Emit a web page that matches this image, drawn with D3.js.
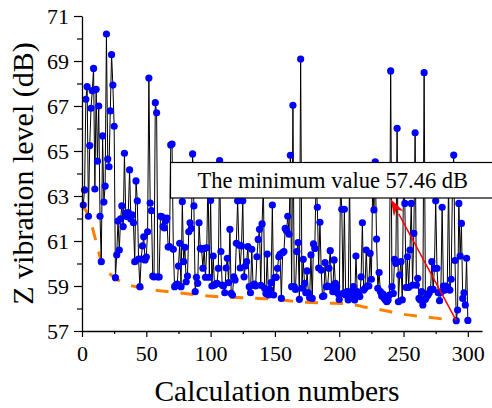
<!DOCTYPE html>
<html>
<head>
<meta charset="utf-8">
<script src="https://cdn.jsdelivr.net/npm/d3@7"></script>
<style>
  html, body { margin: 0; padding: 0; background: #fff; }
  svg { display: block; }
  text { font-family: "Liberation Serif", "Times New Roman", serif; fill: #000; }
</style>
</head>
<body>
<svg id="chart" width="492" height="408"></svg>
<script>
// ---------------- data ----------------
const calcNumbers = d3.range(1, 301);
const zLevel = [
  62.6, 63.27, 67.3, 67.86, 62.1, 65.24, 66.9, 67.68, 68.67, 63.31,
  67.74, 64.55, 67.0, 62.1, 60.08, 65.67, 62.73, 63.44, 70.2, 64.64,
  64.3, 66.78, 69.28, 67.93, 66.1, 59.37, 60.38, 61.89, 60.6, 61.98,
  62.56, 61.64, 64.9, 62.24, 62.08, 62.26, 64.16, 61.98, 62.16, 61.81,
  60.08, 63.67, 62.78, 60.2, 58.97, 60.2, 60.78, 61.19, 60.16, 60.29,
  61.41, 68.24, 62.69, 62.35, 59.44, 59.4, 67.15, 66.7, 59.41, 59.4,
  62.1, 62.08, 61.64, 61.58, 61.9, 62.02, 60.73, 60.75, 65.27, 65.31,
  60.63, 58.97, 59.04, 59.09, 59.89, 60.9, 58.97, 62.75, 60.08, 60.72,
  59.19, 59.44, 61.41, 61.81, 61.56, 64.87, 62.56, 58.75, 59.39, 59.12,
  61.81, 60.67, 60.63, 59.79, 60.67, 59.39, 60.7, 63.9, 59.39, 62.8,
  59.0, 60.33, 59.04, 59.09, 59.12, 59.79, 64.57, 60.53, 59.04, 59.0,
  58.7, 59.8, 60.23, 59.15, 61.52, 58.67, 58.6, 59.41, 59.27, 60.9,
  62.79, 60.82, 59.8, 60.78, 62.79, 59.41, 59.89, 60.08, 60.75, 58.97,
  58.7, 60.63, 59.04, 59.09, 59.0, 60.3, 61.07, 61.52, 59.03, 61.76,
  63.5, 58.9, 58.67, 60.42, 58.6, 58.85, 59.15, 62.6, 58.6, 59.39,
  59.39, 59.79, 60.3, 60.41, 58.45, 60.48, 60.53, 61.56, 61.46, 62.1,
  61.3, 64.81, 58.97, 67.03, 58.97, 58.85, 60.53, 60.93, 58.41, 69.09,
  58.9, 60.19, 59.12, 58.7, 59.67, 58.7, 58.48, 60.38, 58.45, 60.87,
  60.67, 63.8, 62.5, 59.8, 61.83, 59.71, 58.53, 58.56, 60.04, 58.97,
  59.0, 59.79, 60.57, 58.97, 58.75, 60.16, 59.12, 58.97, 58.67, 58.4,
  63.6, 62.41, 58.67, 62.41, 58.6, 58.75, 58.38, 63.8, 58.75, 58.6,
  58.97, 58.38, 60.33, 58.75, 58.6, 58.53, 59.41, 61.81, 58.82, 58.9,
  60.6, 59.01, 59.0, 60.45, 59.3, 63.5, 62.38, 64.52, 61.09, 58.9,
  59.6, 58.75, 58.56, 58.64, 58.45, 58.38, 58.3, 58.38, 58.6, 68.56,
  58.97, 58.67, 60.19, 60.01, 66.01, 58.3, 59.49, 60.08, 58.38, 63.7,
  62.67, 58.94, 60.3, 58.94, 60.6, 62.67, 59.04, 61.34, 65.81, 59.04,
  59.34, 58.45, 58.38, 58.75, 58.16, 68.48, 58.41, 58.53, 58.6, 58.7,
  58.85, 60.08, 58.85, 59.79, 62.79, 59.79, 58.7, 58.35, 58.7, 62.5,
  59.0, 58.82, 59.0, 58.94, 63.6, 58.82, 59.3, 63.3, 64.82, 60.13,
  57.46, 57.93, 62.67, 60.33, 61.78, 58.45, 58.7, 58.16, 60.23, 57.47
];
// lower envelope (orange dashed)
const envelopeX = [0, 6, 11, 15.5, 21.7, 31, 50.5, 70, 90, 109.5, 129, 149, 169, 189, 209, 219, 229, 248, 268, 291];
const envelopeY = [62.6, 62.0, 60.96, 60.0, 59.53, 59.18, 58.87, 58.73, 58.6, 58.51, 58.47, 58.42, 58.29, 58.24, 58.2, 58.07, 57.98, 57.76, 57.62, 57.46];

const xTicks = [0, 50, 100, 150, 200, 250, 300];
const xMinorTicks = [25, 75, 125, 175, 225, 275];
const yTicks = [57, 59, 61, 63, 65, 67, 69, 71];
const yMinorTicks = [58, 60, 62, 64, 66, 68, 70];

const minLabel = "The minimum value 57.46 dB";
const xTitle = "Calculation numbers";
const yTitle = "Z vibration level (dB)";

// ---------------- layout ----------------
const svg = d3.select("#chart");
const x = d3.scaleLinear().domain([0, 311]).range([82, 482]);
const y = d3.scaleLinear().domain([57, 71]).range([331, 16]);

const data = calcNumbers.map((c, i) => ({ c, v: zLevel[i] }));
const env = envelopeX.map((c, i) => ({ c, v: envelopeY[i] }));

// envelope
svg.append("path")
  .datum(env)
  .attr("fill", "none")
  .attr("stroke", "#ff8000")
  .attr("stroke-width", 3)
  .attr("stroke-dasharray", "13,12")
  .attr("d", d3.line().x(d => x(d.c)).y(d => y(d.v)).curve(d3.curveMonotoneX));

// series line
svg.append("path")
  .datum(data)
  .attr("fill", "none")
  .attr("stroke", "#000")
  .attr("stroke-width", 1)
  .attr("d", d3.line().x(d => x(d.c)).y(d => y(d.v)));

// points
svg.append("g").selectAll("circle")
  .data(data)
  .join("circle")
  .attr("cx", d => x(d.c))
  .attr("cy", d => y(d.v))
  .attr("r", 3.6)
  .attr("fill", "#0000ff");

// annotation box
const boxG = svg.append("g");
boxG.append("rect")
  .attr("x", 170.5).attr("y", 162.5)
  .attr("width", 330).attr("height", 35.5)
  .attr("fill", "#fff").attr("stroke", "#000").attr("stroke-width", 1.2);
boxG.append("text")
  .attr("x", 197.5).attr("y", 188)
  .attr("font-size", 22.5)
  .text(minLabel);

// red arrow from minimum point to box
const minIdx = d3.minIndex(zLevel);
const ax0 = x(calcNumbers[minIdx]), ay0 = y(zLevel[minIdx]);
const ax1 = x(240), ay1 = y(62.87);
const ang = Math.atan2(ay1 - ay0, ax1 - ax0);
const headLen = 17, headW = 5.5;
const bx = ax1 - headLen * Math.cos(ang), by = ay1 - headLen * Math.sin(ang);
svg.append("line")
  .attr("x1", ax0).attr("y1", ay0).attr("x2", bx).attr("y2", by)
  .attr("stroke", "#ff0000").attr("stroke-width", 1.5);
svg.append("path")
  .attr("fill", "#ff0000")
  .attr("d", `M${ax1},${ay1}L${bx + headW * Math.sin(ang)},${by - headW * Math.cos(ang)}L${ax1 - 12 * Math.cos(ang)},${ay1 - 12 * Math.sin(ang)}L${bx - headW * Math.sin(ang)},${by + headW * Math.cos(ang)}Z`);

// axes
const xAxis = svg.append("g").attr("transform", "translate(0,331)")
  .call(d3.axisBottom(x).tickValues(xTicks).tickFormat(d3.format("d")).tickSize(6).tickSizeOuter(0));
svg.append("g").attr("transform", "translate(0,331)")
  .call(d3.axisBottom(x).tickValues(xMinorTicks).tickFormat("").tickSize(3).tickSizeOuter(0))
  .select(".domain").remove();
const yAxis = svg.append("g").attr("transform", "translate(82,0)")
  .call(d3.axisLeft(y).tickValues(yTicks).tickFormat(d3.format("d")).tickSize(8).tickSizeOuter(0));
svg.append("g").attr("transform", "translate(82,0)")
  .call(d3.axisLeft(y).tickValues(yMinorTicks).tickFormat("").tickSize(5).tickSizeOuter(0))
  .select(".domain").remove();

svg.selectAll(".domain").attr("stroke", "#000").attr("stroke-width", 1.3);
svg.selectAll(".tick line").attr("stroke", "#000").attr("stroke-width", 1.2);
xAxis.selectAll(".tick text")
  .attr("font-size", 22).attr("dy", "0.71em").attr("y", 14);
yAxis.selectAll(".tick text")
  .attr("font-size", 22).attr("x", -13);

// titles
svg.append("text")
  .attr("x", x(150) + 2).attr("y", 401)
  .attr("text-anchor", "middle")
  .attr("font-size", 29.5)
  .text(xTitle);
svg.append("text")
  .attr("transform", `translate(33,${(y(57) + y(71)) / 2}) rotate(-90)`)
  .attr("text-anchor", "middle")
  .attr("font-size", 30)
  .text(yTitle);
</script>
</body>
</html>
